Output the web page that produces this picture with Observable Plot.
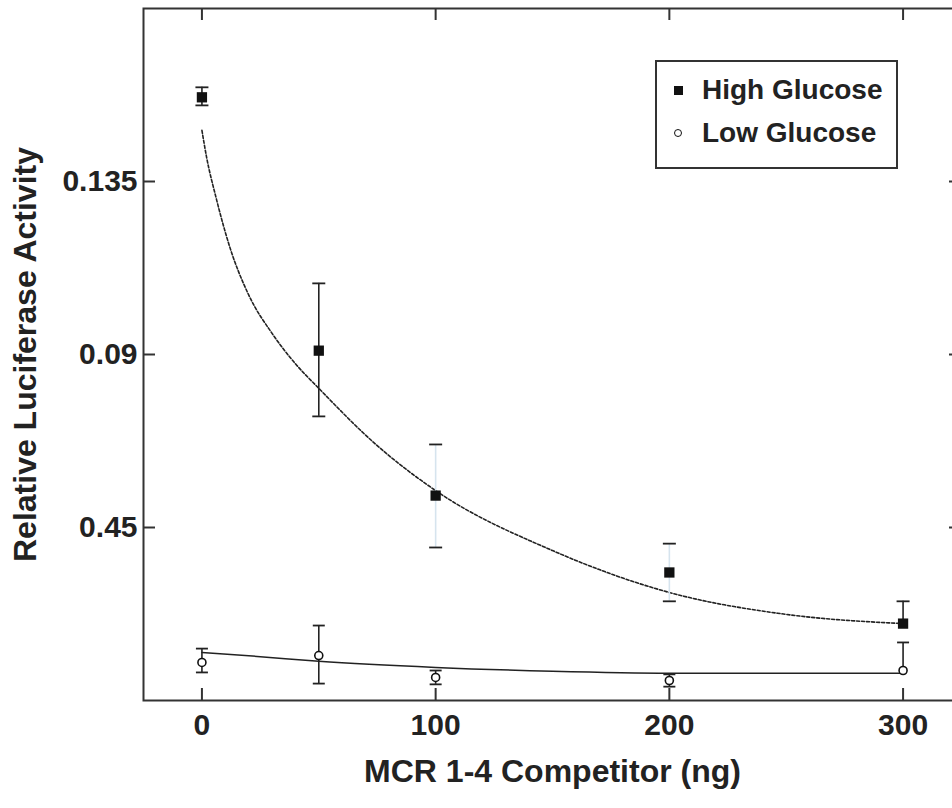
<!DOCTYPE html>
<html>
<head>
<meta charset="utf-8">
<script src="https://cdn.jsdelivr.net/npm/d3@7"></script>
<script src="https://cdn.jsdelivr.net/npm/@observablehq/plot@0.6"></script>
<style>
  html, body { margin: 0; padding: 0; background: #fff; overflow: hidden; }
  #chart { position: relative; width: 964px; height: 808px; }
  .legend {
    position: absolute; left: 655px; top: 60px; width: 239px; height: 105px;
    border: 2px solid #333; background: #fff;
    font-family: "Liberation Sans", Arial, sans-serif; font-weight: bold; font-size: 28px; color: #222;
  }
  .legend .lbl { position: absolute; left: 45px; line-height: 28px; white-space: nowrap; }
  .legend .sq { position: absolute; width: 9px; height: 9px; background: #111; }
  .legend .ci { position: absolute; width: 6px; height: 6px; border: 1.5px solid #111; border-radius: 50%; background: #fff; }
</style>
</head>
<body>
<div id="chart"></div>
<script>
// Competitor dose (ng) and tick values
const doses = [0, 50, 100, 200, 300];
const xTicks = [0, 100, 200, 300];
const yTicks = [0.045, 0.09, 0.135];
const yTickLabels = ["0.45", "0.09", "0.135"];

// High glucose: mean and error-bar ends (null = no lower bar drawn)
const highMean  = [0.1569, 0.0910, 0.0533, 0.0333, 0.0200];
const highUpper = [0.1595, 0.1085, 0.0666, 0.0408, 0.0258];
const highLower = [0.1548, 0.0739, 0.0398, 0.0258, null];

// Low glucose: mean and error-bar ends
const lowMean  = [0.0099, 0.0117, 0.0060, 0.0052, 0.0078];
const lowUpper = [0.0135, 0.0195, 0.0078, 0.0068, 0.0151];
const lowLower = [0.0073, 0.0044, 0.0042, 0.0036, null];

// Fitted decay curves
const fitDoseHigh = [0, 2, 6, 12, 20, 30, 40, 50, 75, 100, 150, 200, 250, 300];
const fitHigh     = [0.1483, 0.1413, 0.1309, 0.1178, 0.1055, 0.0955, 0.0876, 0.0812, 0.0663, 0.0546, 0.0390, 0.0281, 0.0224, 0.0200];
const fitDoseLow  = [0, 25, 50, 100, 150, 200, 300];
const fitLow      = [0.0125, 0.0114, 0.0102, 0.0086, 0.0076, 0.0071, 0.0071];

const W = 964, H = 808, mL = 143, mR = 3, mT = 8, mB = 108;
const innerW = W - mL - mR, innerH = H - mT - mB;
const tickLen = 12;
const ink = "#222";

const rows = (mean, upper, lower) => doses.map((dose, i) => ({
  dose, mean: mean[i], hi: upper[i], lo: lower[i] ?? mean[i], hasLo: lower[i] != null
}));
const high = rows(highMean, highUpper, highLower);
const low = rows(lowMean, lowUpper, lowLower);
const caps = (rs) => rs.flatMap(r => r.hasLo ? [{dose: r.dose, v: r.hi}, {dose: r.dose, v: r.lo}] : [{dose: r.dose, v: r.hi}]);
const fitRowsHigh = fitDoseHigh.map((dose, i) => ({dose, v: fitHigh[i]}));
const fitRowsLow = fitDoseLow.map((dose, i) => ({dose, v: fitLow[i]}));

// horizontal bar used as error-bar cap
const capSymbol = {
  draw(context, size) {
    const h = Math.sqrt(size / Math.PI);
    context.moveTo(-h, 0);
    context.lineTo(h, 0);
  }
};
const faintStems = new Set([100, 200]);

const chart = Plot.plot({
  width: W, height: H,
  marginLeft: mL, marginRight: mR, marginTop: mT, marginBottom: mB,
  x: {domain: [-25, 325]},
  y: {domain: [0, 0.18]},
  style: {fontFamily: "'Liberation Sans', Arial, sans-serif", background: "#fff", color: ink},
  marks: [
    Plot.frame({stroke: "#333", strokeWidth: 2}),
    // inward ticks on all four sides
    Plot.tickX(xTicks, {x: d => d, insetTop: innerH - tickLen, stroke: "#333", strokeWidth: 2}),
    Plot.tickX(xTicks, {x: d => d, insetBottom: innerH - tickLen, stroke: "#333", strokeWidth: 2}),
    Plot.tickY(yTicks, {y: d => d, insetRight: innerW - tickLen, stroke: "#333", strokeWidth: 2}),
    Plot.tickY(yTicks, {y: d => d, insetLeft: innerW - tickLen, stroke: "#333", strokeWidth: 2}),
    Plot.axisX(xTicks, {tickSize: 0, tickPadding: 13, fontSize: 30, fontWeight: "bold", label: null}),
    Plot.axisY(yTicks, {tickSize: 0, tickPadding: 6, fontSize: 30, fontWeight: "bold", label: null,
      tickFormat: d => yTickLabels[yTicks.indexOf(d)]}),
    // axis titles
    Plot.text(["MCR 1-4 Competitor (ng)"], {frameAnchor: "bottom", dy: 81, fontSize: 32, fontWeight: "bold", fill: ink}),
    Plot.text(["Relative Luciferase Activity"], {frameAnchor: "left", textAnchor: "middle", dx: -118, rotate: -90, fontSize: 32, fontWeight: "bold", fill: ink}),
    // fitted curves
    Plot.line(fitRowsHigh, {x: "dose", y: "v", curve: "monotone-x", stroke: ink, strokeWidth: 1.6, strokeDasharray: "3,2"}),
    Plot.line(fitRowsLow, {x: "dose", y: "v", curve: "monotone-x", stroke: ink, strokeWidth: 1.5}),
    // error bars
    Plot.ruleX(high, {x: "dose", y1: "lo", y2: "hi", stroke: d => faintStems.has(d.dose) ? "#d6e4ee" : ink, strokeWidth: 1.6}),
    Plot.ruleX(low, {x: "dose", y1: "lo", y2: "hi", stroke: ink, strokeWidth: 1.6}),
    Plot.dot(caps(high), {x: "dose", y: "v", symbol: capSymbol, r: 6.5, stroke: ink, strokeWidth: 1.8}),
    Plot.dot(caps(low), {x: "dose", y: "v", symbol: capSymbol, r: 6, stroke: ink, strokeWidth: 1.8}),
    // data points
    Plot.dot(high, {x: "dose", y: "mean", symbol: "square", r: 5.8, fill: "#111", stroke: "none"}),
    Plot.dot(low, {x: "dose", y: "mean", symbol: "circle", r: 4, fill: "#fff", stroke: "#111", strokeWidth: 1.6})
  ]
});

const root = document.getElementById("chart");
root.appendChild(chart);

const legend = document.createElement("div");
legend.className = "legend";
legend.innerHTML = `
  <span class="sq" style="left:17px; top:24px"></span>
  <span class="lbl" style="top:14px">High Glucose</span>
  <span class="ci" style="left:17px; top:67px"></span>
  <span class="lbl" style="top:57px">Low Glucose</span>`;
root.appendChild(legend);
</script>
</body>
</html>
